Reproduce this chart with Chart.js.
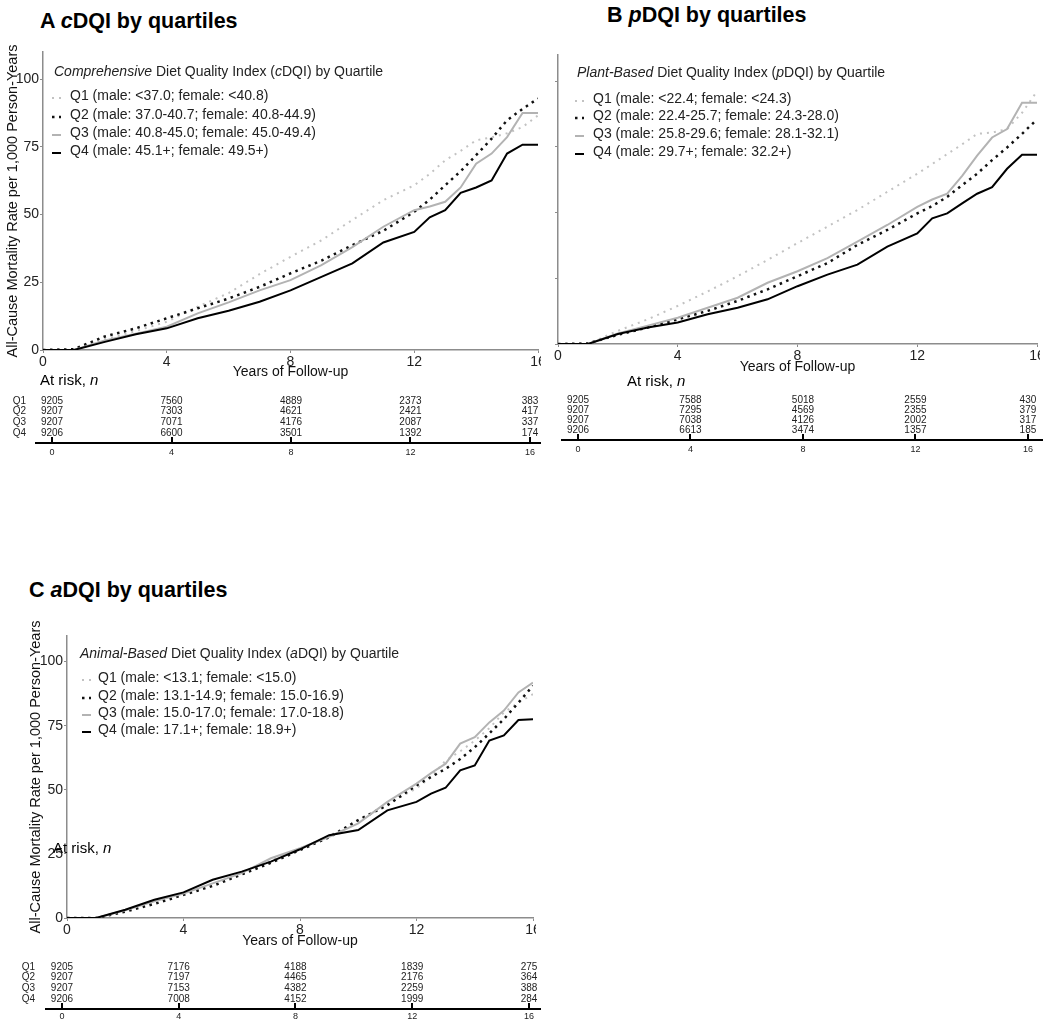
<!DOCTYPE html>
<html>
<head>
<meta charset="utf-8">
<script src="https://cdn.jsdelivr.net/npm/chart.js@4.4.1/dist/chart.umd.min.js"></script>
<style>
body { margin: 0; background: #fff; font-family: "Liberation Sans", Arial, sans-serif; }
#page { position: relative; width: 1050px; height: 1021px; overflow: hidden; }
canvas { position: absolute; }
.txt { position: absolute; white-space: nowrap; color: #000; }
.title { font-weight: bold; font-size: 21.5px; line-height: 24px; }
.leg { font-size: 14px; line-height: 18px; color: #222; }
.risk { font-size: 15px; line-height: 18px; }
</style>
</head>
<body>
<div id="page">
  <canvas id="mainA" width="541" height="345" style="left:0;top:40px"></canvas>
  <canvas id="riskA" width="541" height="80" style="left:0;top:385px"></canvas>
  <canvas id="mainB" width="495" height="340" style="left:545px;top:40px"></canvas>
  <canvas id="riskB" width="500" height="75" style="left:545px;top:385px"></canvas>
  <canvas id="mainC" width="513" height="334" style="left:23px;top:620px"></canvas>
  <canvas id="riskC" width="541" height="71" style="left:0;top:950px"></canvas>
</div>
<script>
// follow-up years where the curves were read
const years = [0, 1, 2, 3, 4, 5, 6, 7, 8, 9, 10, 11, 12, 12.5, 13, 13.5, 14, 14.5, 15, 15.5, 16];

// cumulative all-cause mortality per 1,000 person-years
const cdqiQ1 = [0, 0, 4, 7, 10.4, 16, 21, 28, 34.4, 40.5, 48, 55.3, 60.8, 65, 70, 73.5, 77.4, 78.5, 80, 82.3, 86.6];
const cdqiQ2 = [0, 0.3, 5, 8, 11.7, 15.4, 19, 23.3, 28.3, 33, 38.7, 44, 51, 55.5, 60.8, 66, 71.9, 78, 84.8, 89, 92.8];
const cdqiQ3 = [0, 0, 3.5, 6, 8.6, 13.5, 17.6, 22, 25.8, 31.3, 38, 45.5, 51.6, 53, 54.7, 60, 68.8, 72.5, 78.6, 87.5, 87.5];
const cdqiQ4 = [0, 0, 3, 5.8, 8, 11.7, 14.5, 17.8, 22, 27, 32, 39.7, 43.6, 49, 51.6, 58, 60, 62.6, 72.5, 75.8, 75.8];

const pdqiQ1 = [0, 0, 5, 9.4, 14.5, 20, 25.8, 32, 38.4, 44.7, 51, 57.9, 64.8, 68.5, 72.3, 76, 80, 80.5, 81.8, 88, 96.2];
const pdqiQ2 = [0, 0.2, 3.5, 6.3, 9.4, 12.6, 16.4, 20.8, 25.8, 30.8, 37.7, 43.4, 49.7, 52.5, 56, 60.5, 64.8, 70, 74.8, 80, 85.5];
const pdqiQ3 = [0, 0, 4, 7, 10, 13.8, 17.6, 23.3, 27.7, 32.7, 39, 45.3, 52.2, 55, 57.2, 64, 71.7, 78.6, 81.8, 91.8, 91.8];
const pdqiQ4 = [0, 0, 3.8, 6.3, 8.2, 11.3, 13.8, 17, 22, 26.4, 30.2, 37.1, 42.1, 47.8, 49.7, 53.5, 57.2, 59.7, 66.7, 72, 72];

const adqiQ1 = [0, 0, 3, 6, 9.5, 13, 17.5, 22.5, 27, 32, 38, 44.6, 50.5, 55, 61.4, 65, 69.2, 74, 80.2, 84, 87.3];
const adqiQ2 = [0, 0, 2.5, 5.5, 9, 12.5, 17, 21.5, 26.5, 31.5, 38.2, 44, 51.7, 55, 58.2, 62, 66.6, 72, 77.6, 84, 90.6];
const adqiQ3 = [0, 0, 3, 6.5, 9.5, 13.5, 17.5, 23.3, 27.2, 31.7, 36.9, 45.3, 52.4, 56.5, 60.2, 68, 70.5, 76.3, 80.9, 88, 91.8];
const adqiQ4 = [0, 0, 3.2, 7.1, 10, 14.9, 18.1, 22, 26.8, 32.3, 34.3, 42, 45.3, 48.5, 50.8, 57.6, 59.5, 69.2, 71.2, 77.2, 77.5];

// axis ticks
const xTicks = [0, 4, 8, 12, 16];
const yTicks = [0, 25, 50, 75, 100];
const quartiles = ['Q1', 'Q2', 'Q3', 'Q4'];

// number at risk, one row per quartile, columns at riskYears
const riskYears = [0, 4, 8, 12, 16];
const cdqiRisk = [[9205, 7560, 4889, 2373, 383], [9207, 7303, 4621, 2421, 417], [9207, 7071, 4176, 2087, 337], [9206, 6600, 3501, 1392, 174]];
const pdqiRisk = [[9205, 7588, 5018, 2559, 430], [9207, 7295, 4569, 2355, 379], [9207, 7038, 4126, 2002, 317], [9206, 6613, 3474, 1357, 185]];
const adqiRisk = [[9205, 7176, 4188, 1839, 275], [9207, 7197, 4465, 2176, 364], [9207, 7153, 4382, 2259, 388], [9206, 7008, 4152, 1999, 284]];

// legend texts
const cdqiLabels = ['Q1 (male: <37.0; female: <40.8)', 'Q2 (male: 37.0-40.7; female: 40.8-44.9)', 'Q3 (male: 40.8-45.0; female: 45.0-49.4)', 'Q4 (male: 45.1+; female: 49.5+)'];
const pdqiLabels = ['Q1 (male: <22.4; female: <24.3)', 'Q2 (male: 22.4-25.7; female: 24.3-28.0)', 'Q3 (male: 25.8-29.6; female: 28.1-32.1)', 'Q4 (male: 29.7+; female: 32.2+)'];
const adqiLabels = ['Q1 (male: <13.1; female: <15.0)', 'Q2 (male: 13.1-14.9; female: 15.0-16.9)', 'Q3 (male: 15.0-17.0; female: 17.0-18.8)', 'Q4 (male: 17.1+; female: 18.9+)'];

const FONT = '"Liberation Sans", Arial, sans-serif';
Chart.defaults.font.family = FONT;

// line look per quartile
const qColor = ['#c2c2c2', '#111111', '#b3b3b3', '#000000'];
const qDash = [[2, 5], [2.5, 4.5], [], []];
const qWidth = [2, 2.5, 2, 2];

const AXIS = '#8c8c8c';
const yTitle = 'All-Cause Mortality Rate per 1,000 Person-Years';

function noPad(s) { s.paddingLeft = 0; s.paddingRight = 0; s.paddingTop = 0; s.paddingBottom = 0; }

function makeMain(id, series, o) {
    const datasets = series.map((vals, i) => ({
        data: years.map((t, k) => ({ x: t, y: vals[k] })),
        borderColor: qColor[i],
        borderDash: qDash[i],
        borderWidth: qWidth[i],
        borderCapStyle: 'butt',
        pointRadius: 0,
        tension: 0,
        order: 3 - i
    }));
    new Chart(document.getElementById(id), {
        type: 'line',
        data: { datasets },
        options: {
            responsive: false,
            animation: false,
            layout: { autoPadding: false, padding: { top: o.top, right: 3, left: 0, bottom: 0 } },
            plugins: { legend: { display: false }, tooltip: { enabled: false } },
            scales: {
                x: {
                    type: 'linear', min: 0, max: 16,
                    afterBuildTicks: s => { s.ticks = xTicks.map(v => ({ value: v })); },
                    afterFit: s => { s.height = o.xH; noPad(s); },
                    grid: { drawOnChartArea: false, drawTicks: true, tickLength: 3, color: AXIS },
                    border: { color: AXIS, width: 1.5 },
                    ticks: { font: { size: 14 }, color: '#222', padding: 1, maxRotation: 0, autoSkip: false },
                    title: { display: true, text: 'Years of Follow-up', font: { size: 14 }, color: '#111', padding: { top: 0, bottom: 4 } }
                },
                y: {
                    type: 'linear', min: 0, max: 110,
                    afterBuildTicks: s => { s.ticks = yTicks.map(v => ({ value: v })); },
                    afterFit: s => { s.width = o.yW; noPad(s); },
                    grid: { drawOnChartArea: false, drawTicks: true, tickLength: 3, color: AXIS },
                    border: { color: AXIS, width: 1.5 },
                    ticks: { display: o.yLabels, font: { size: 14 }, color: '#222', padding: 1 },
                    title: { display: o.yLabels, text: yTitle, font: { size: 14.5 }, color: '#111', padding: { top: 4, bottom: 0 } }
                }
            }
        }
    });
}

const riskPlugin = {
    id: 'riskNumbers',
    afterDraw(chart) {
        const rows = chart.options.plugins.riskNumbers.rows;
        const { ctx } = chart;
        const x = chart.scales.x, y = chart.scales.y;
        ctx.save();
        ctx.font = '10px ' + FONT;
        ctx.fillStyle = '#222';
        ctx.textAlign = 'center';
        ctx.textBaseline = 'middle';
        rows.forEach((row, i) => row.forEach((n, j) => {
            ctx.fillText(String(n), x.getPixelForValue(riskYears[j]), y.getPixelForValue(i + 1));
        }));
        ctx.restore();
    }
};

function makeRisk(id, rows, o) {
    new Chart(document.getElementById(id), {
        type: 'scatter',
        data: { datasets: [] },
        plugins: [riskPlugin],
        options: {
            responsive: false,
            animation: false,
            layout: { autoPadding: false, padding: { top: o.top, right: o.right, left: 0, bottom: 0 } },
            plugins: { legend: { display: false }, tooltip: { enabled: false }, riskNumbers: { rows } },
            scales: {
                x: {
                    type: 'linear', min: o.xMin, max: o.xMax,
                    afterBuildTicks: s => { s.ticks = riskYears.map(v => ({ value: v })); },
                    afterFit: s => { s.height = o.xH; noPad(s); },
                    grid: { drawOnChartArea: false, drawTicks: true, tickLength: -6, color: '#000', lineWidth: 2 },
                    border: { color: '#000', width: 2 },
                    ticks: { font: { size: 9 }, color: '#222', padding: o.tickPad, maxRotation: 0, autoSkip: false }
                },
                y: {
                    type: 'linear', reverse: true, min: 0, max: 4.94,
                    afterBuildTicks: s => { s.ticks = [1, 2, 3, 4].map(v => ({ value: v })); },
                    afterFit: s => { s.width = o.yW; noPad(s); },
                    grid: { display: false, drawTicks: false },
                    border: { display: false },
                    ticks: { display: o.rowLabels, callback: v => quartiles[v - 1], font: { size: 10 }, color: '#222', padding: o.rowPad }
                }
            }
        }
    });
}

makeMain('mainA', [cdqiQ1, cdqiQ2, cdqiQ3, cdqiQ4], { top: 12, xH: 35, yW: 43, yLabels: true });
makeMain('mainB', [pdqiQ1, pdqiQ2, pdqiQ3, pdqiQ4], { top: 15, xH: 36, yW: 13, yLabels: false });
makeMain('mainC', [adqiQ1, adqiQ2, adqiQ3, adqiQ4], { top: 16, xH: 36, yW: 44, yLabels: true });

makeRisk('riskA', cdqiRisk, { top: 5.3, right: 1, xH: 22, yW: 36, xMin: -0.536, xMax: 16.335, tickPad: 10, rowLabels: true, rowPad: 10 });
makeRisk('riskB', pdqiRisk, { top: 4.9, right: 3, xH: 20, yW: 17, xMin: -0.569, xMax: 16.5, tickPad: 10.5, rowLabels: false, rowPad: 10 });
makeRisk('riskC', adqiRisk, { top: 6.3, right: 1, xH: 12, yW: 46, xMin: -0.548, xMax: 16.377, tickPad: 8.5, rowLabels: true, rowPad: 11 });

// HTML text: panel titles, legends, "At risk" captions
const page = document.getElementById('page');
function addText(html, cls, left, cy, lh) {
    const d = document.createElement('div');
    d.className = 'txt ' + cls;
    d.innerHTML = html;
    d.style.left = left + 'px';
    d.style.top = (cy - lh / 2) + 'px';
    page.appendChild(d);
    return d;
}
function esc(s) { return s.replace(/&/g, '&amp;').replace(/</g, '&lt;'); }
function symbol(i) {
    const dash = qDash[i].length ? `stroke-dasharray="${qDash[i].join(' ')}"` : '';
    return `<svg width="10" height="6"><line x1="0" y1="3" x2="9" y2="3" stroke="${qColor[i]}" stroke-width="${qWidth[i]}" ${dash}/></svg>`;
}
function addLegend(titleHtml, labels, p) {
    addText(titleHtml, 'leg', p.left, p.cy, 18);
    labels.forEach((lab, i) => {
        addText(symbol(i), 'leg', p.symLeft, p.rows[i] + 1, 18);
        addText(esc(lab), 'leg', p.textLeft, p.rows[i], 18);
    });
}

addText('A <i>c</i>DQI by quartiles', 'title', 40, 21, 24);
addText('B <i>p</i>DQI by quartiles', 'title', 607, 15, 24);
addText('C <i>a</i>DQI by quartiles', 'title', 29, 590, 24);

addLegend('<i>Comprehensive</i> Diet Quality Index (<i>c</i>DQI) by Quartile', cdqiLabels,
    { left: 54, cy: 71, symLeft: 52, textLeft: 70, rows: [95, 114, 132, 150] });
addLegend('<i>Plant-Based</i> Diet Quality Index (<i>p</i>DQI) by Quartile', pdqiLabels,
    { left: 577, cy: 72, symLeft: 575, textLeft: 593, rows: [98, 115, 133, 151] });
addLegend('<i>Animal-Based</i> Diet Quality Index (<i>a</i>DQI) by Quartile', adqiLabels,
    { left: 80, cy: 653, symLeft: 82, textLeft: 98, rows: [677, 695, 712, 729] });

addText('At risk, <i>n</i>', 'risk', 40, 380, 18);
addText('At risk, <i>n</i>', 'risk', 627, 381, 18);
addText('At risk, <i>n</i>', 'risk', 53, 848, 18);
</script>
</body>
</html>
